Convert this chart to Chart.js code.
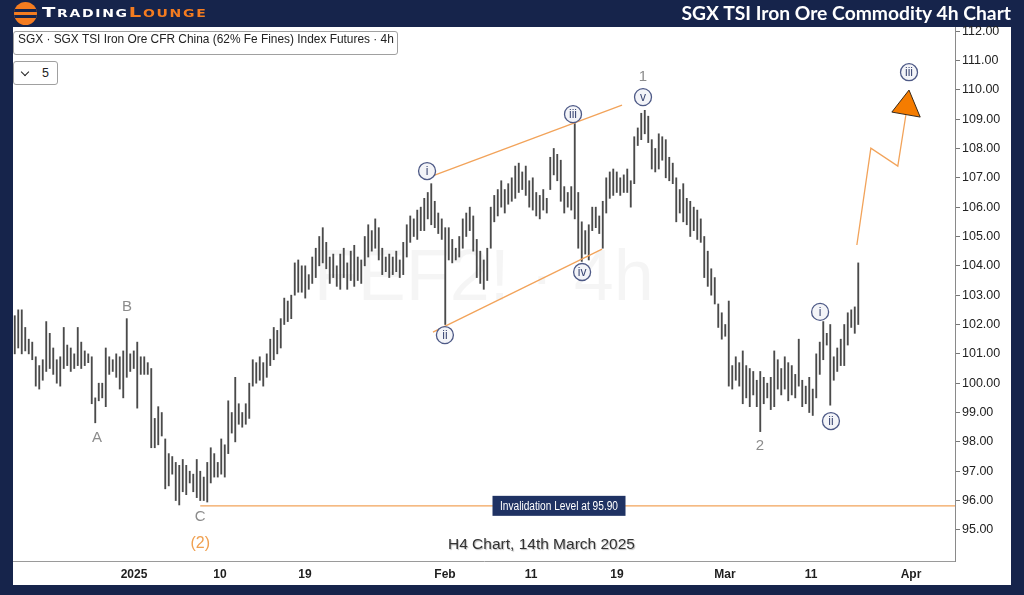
<!DOCTYPE html>
<html><head><meta charset="utf-8">
<script src="https://cdn.jsdelivr.net/npm/chart.js@4.4.1/dist/chart.umd.min.js"></script>
<style>
html,body{margin:0;padding:0;background:#16244b;}
#wrap{position:relative;width:1024px;height:595px;overflow:hidden;background:#16244b;}
canvas{position:absolute;left:0;top:0;}
.logo-icon{position:absolute;left:14px;top:2px;width:23px;height:23px;border-radius:50%;background:#f47c20;overflow:hidden;}
.logo-icon i{position:absolute;left:0;width:23px;height:3px;background:#16244b;}
.logo-text{position:absolute;left:42px;top:4px;font:900 14px "DejaVu Sans",sans-serif;font-variant:small-caps;letter-spacing:1.2px;color:#fff;white-space:nowrap;transform:scaleX(1.4);transform-origin:0 50%;}
.logo-text span{color:#f47c20;}
.title{position:absolute;right:13px;top:1px;font:700 19.3px "Lato",sans-serif;color:#fff;white-space:nowrap;}
.info{position:absolute;left:13px;top:31px;height:22px;line-height:22px;padding:0 3px 0 4px;background:#fff;border:1px solid #a0a0a0;border-radius:3px;font:11.9px "Liberation Sans",Arial,sans-serif;color:#222;white-space:nowrap;}
.cnt{position:absolute;left:13px;top:61px;width:43px;height:22px;background:#fff;border:1px solid #a0a0a0;border-radius:3px;font:12.5px "Liberation Sans",Arial,sans-serif;color:#222;}
.cnt b{position:absolute;left:8px;top:7px;width:5px;height:5px;border-right:1.6px solid #222;border-bottom:1.6px solid #222;transform:rotate(45deg);}
.cnt span{position:absolute;left:28px;top:4px;line-height:14px;}
.foot{position:absolute;left:448px;top:535px;font:15.5px "Liberation Sans",Arial,sans-serif;color:#333;text-shadow:1px 1px 1px #bbb;white-space:nowrap;}
</style></head><body>
<div id="wrap">
<canvas id="c" width="1024" height="595"></canvas>
<div class="logo-icon"><i style="top:7px"></i><i style="top:13px"></i></div>
<div class="logo-text">Trading<span>Lounge</span></div>
<div class="title">SGX TSI Iron Ore Commodity 4h Chart</div>
<div class="info">SGX · SGX TSI Iron Ore CFR China (62% Fe Fines) Index Futures · 4h</div>
<div class="cnt"><b></b><span>5</span></div>
<div class="foot">H4 Chart, 14th March 2025</div>
</div>
<script>
// ---- data ----
const highs = [102.3,102.5,102.5,101.9,101.5,101.4,100.9,100.6,100.8,102.1,101.7,101.2,100.8,100.9,101.9,101.3,101.2,101.0,101.9,101.4,
101.1,101.0,100.9,99.5,100.0,100.0,101.2,100.9,100.8,101.0,100.9,101.1,102.2,101.0,101.1,101.4,100.9,100.9,100.7,100.5,
98.8,99.2,99.0,98.1,97.6,97.5,97.3,97.2,97.4,97.2,97.0,96.9,97.4,97.0,96.8,97.3,97.8,97.6,97.3,98.1,
97.9,99.4,99.0,100.2,99.3,99.0,99.3,100.0,100.8,100.7,100.9,100.7,101.0,101.5,101.9,101.8,102.2,102.9,102.8,103.0,
104.1,104.2,104.0,104.0,103.7,104.3,104.6,105.0,105.3,104.8,104.3,104.4,104.0,104.4,104.6,104.1,104.5,104.7,104.3,104.2,
105.0,105.4,105.2,105.6,105.3,104.6,104.3,104.4,104.3,104.5,104.2,104.8,105.4,105.7,105.6,105.9,106.0,106.3,106.5,106.8,
106.2,105.8,105.6,105.3,105.3,104.9,104.6,105.0,105.6,105.8,106.0,105.7,104.9,104.5,104.2,104.6,106.0,106.4,106.6,106.9,
106.6,106.8,107.0,107.4,107.5,107.2,107.4,106.9,107.0,106.5,106.4,106.6,106.3,107.7,108.0,107.8,107.6,106.7,106.5,106.7,
108.85,106.5,105.5,105.2,105.4,106.0,106.0,105.7,106.2,107.0,107.2,107.3,107.2,107.0,107.1,107.3,106.9,108.4,108.7,109.2,
109.3,109.1,108.3,108.0,108.5,108.4,108.3,107.7,107.5,107.0,106.6,106.8,106.3,106.2,106.0,105.9,105.6,105.0,104.5,103.9,
103.6,102.7,102.4,102.0,102.8,100.6,100.9,100.7,101.1,100.6,100.5,100.4,100.1,100.4,100.2,100.0,100.2,101.1,100.8,100.5,
100.9,100.7,100.6,100.3,101.5,100.1,99.9,100.2,99.8,101.0,101.4,102.1,101.7,102.0,100.9,101.2,101.5,102.0,102.4,102.5,
102.6,104.1];
const lows = [101.0,101.2,101.0,101.1,101.0,100.8,99.9,99.8,100.1,100.4,100.5,100.3,100.0,99.9,100.5,100.6,100.4,100.5,100.6,100.5,
100.6,100.7,99.3,98.65,99.4,99.5,99.2,100.3,100.4,100.2,99.8,99.5,100.2,100.4,100.5,99.15,100.3,100.3,100.3,97.8,
97.8,97.9,98.2,96.4,96.5,96.9,96.0,95.85,96.3,96.2,96.6,96.3,96.1,96.0,96.0,95.95,96.6,96.8,96.8,96.9,
96.8,97.6,98.3,98.0,98.6,98.5,98.6,98.8,99.9,100.0,100.1,99.9,100.2,100.6,100.8,101.0,101.2,102.0,102.1,102.2,
103.0,103.1,103.1,102.9,103.2,103.4,103.6,104.0,104.1,103.9,103.4,103.6,103.3,103.2,103.6,103.2,103.5,103.3,103.5,103.4,
104.0,104.3,104.5,104.6,104.2,103.7,103.8,103.6,103.7,103.8,103.6,103.7,104.3,104.8,105.0,104.9,105.2,105.2,105.6,105.4,
105.3,105.1,104.9,102.0,104.2,104.1,104.2,104.3,104.6,105.0,105.2,104.5,103.6,103.4,103.2,103.5,104.6,105.5,105.7,106.0,
105.8,106.1,106.2,106.3,106.5,106.6,106.4,106.0,105.9,105.7,105.6,105.9,105.8,106.6,107.1,106.9,106.2,105.8,106.0,105.9,
105.6,104.6,104.15,104.4,104.2,105.2,105.3,105.1,104.6,105.8,106.3,106.4,106.5,106.4,106.5,106.5,106.0,106.8,108.1,108.3,
108.5,108.2,107.3,107.2,107.3,107.6,107.0,106.9,106.8,105.5,105.8,105.5,105.4,105.0,105.2,104.9,104.8,103.6,103.3,103.0,
102.7,101.9,101.5,101.6,99.9,99.8,100.1,99.9,99.3,99.5,99.2,99.6,99.2,98.35,99.3,99.5,99.1,99.2,99.8,99.6,
99.8,99.4,99.6,99.5,99.9,99.2,99.3,99.0,98.9,99.5,100.3,100.8,101.3,99.25,100.1,100.4,100.6,100.6,101.3,101.9,
101.7,102.0];
const xTickPos = [34.07,58.64,82.93,122.93,147.5,172.07,202.93,227.5,256.07];
const xTickLabels = ['2025','10','19','Feb','11','19','Mar','11','Apr'];
const yTickValues = [95,96,97,98,99,100,101,102,103,104,105,106,107,108,109,110,111,112];
const upperChannel = [[119.2,107.06],[173.5,109.48]];
const lowerChannel = [[119.5,101.74],[167.8,104.57]];
const projection = [[240.6,104.71],[244.6,108.01],[252.3,107.40],[254.6,109.14]];
const invalidation = [[53,95.82],[268.64,95.82]];
const arrowHead = [[255.5,109.99],[250.6,109.24],[258.7,109.07]];
const waveText  = ['A','B','C','(2)','1','v','i','ii','iii','iv','2','i','ii','iii'];
const waveX     = [23.5,32.1,53,53,179.5,179.5,117.8,122.9,159.5,162.1,212.9,230.1,233.2,255.5];
const waveY     = [98.13,102.6,95.44,94.52,110.43,109.75,107.23,101.64,109.17,103.79,97.86,102.43,98.71,110.6];
const waveKind  = ['g','g','g','o','g','c','c','c','c','c','g','c','c','c'];
const invalidLabel = {x:155.5, y:95.82, text:'Invalidation Level at 95.90'};
const watermark = {x:134, y:103.5, text:'FEF2! · 4h'};

const NAVY = '#16244b';
const pts = a => a.map(p => ({x:p[0], y:p[1]}));
const lineDs = (a) => ({type:'line', data:pts(a), borderColor:'#f2a35a', borderWidth:1.3, pointRadius:0, fill:false, tension:0, order:0});

const framePlugin = {
  id:'frame',
  beforeDraw(chart){
    const c = chart.ctx;
    c.save();
    c.fillStyle = NAVY; c.fillRect(0,0,chart.width,chart.height);
    c.fillStyle = '#fff'; c.fillRect(13,27,998,558);
    c.restore();
  },
  beforeDatasetsDraw(chart){
    const c = chart.ctx, xs = chart.scales.x, ys = chart.scales.y;
    c.save();
    c.font = '72px "Liberation Sans", Arial, sans-serif';
    c.fillStyle = 'rgba(0,0,0,0.04)';
    c.textAlign = 'center'; c.textBaseline = 'middle';
    c.fillText(watermark.text, xs.getPixelForValue(watermark.x), ys.getPixelForValue(watermark.y));
    c.restore();
  },
  afterDatasetsDraw(chart){
    const c = chart.ctx, xs = chart.scales.x, ys = chart.scales.y;
    c.save();
    // arrow head
    c.beginPath();
    arrowHead.forEach((p,i)=>{const X=xs.getPixelForValue(p[0]),Y=ys.getPixelForValue(p[1]); i?c.lineTo(X,Y):c.moveTo(X,Y);});
    c.closePath();
    c.fillStyle='#f57c00'; c.fill(); c.strokeStyle='#3a2a1a'; c.lineWidth=1; c.stroke();
    // wave labels
    c.textAlign='center'; c.textBaseline='middle';
    for(let i=0;i<waveText.length;i++){
      const X = xs.getPixelForValue(waveX[i]), Y = ys.getPixelForValue(waveY[i]);
      if(waveKind[i]==='c'){
        c.beginPath(); c.arc(X,Y,8.5,0,Math.PI*2);
        c.fillStyle='#f3f4f8'; c.fill();
        c.lineWidth=1.3; c.strokeStyle='#4d5986'; c.stroke();
        c.fillStyle='#3b4774'; c.font='12px "Liberation Sans", Arial, sans-serif';
        c.fillText(waveText[i],X,Y+0.5);
      } else if(waveKind[i]==='o'){
        c.fillStyle='#f0a050'; c.font='16px "Liberation Sans", Arial, sans-serif';
        c.fillText(waveText[i],X,Y);
      } else {
        c.fillStyle='#8c8c8c'; c.font='15px "Liberation Sans", Arial, sans-serif';
        c.fillText(waveText[i],X,Y);
      }
    }
    // invalidation label
    const LX = xs.getPixelForValue(invalidLabel.x), LY = ys.getPixelForValue(invalidLabel.y);
    c.fillStyle='#1f3263'; c.fillRect(LX-66.5, LY-10, 133, 20);
    c.font='12px "Liberation Sans", Arial, sans-serif';
    const tw = c.measureText(invalidLabel.text).width;
    const sx = 118/tw;
    c.translate(LX, LY); c.scale(sx,1);
    c.fillStyle='#fff'; c.fillText(invalidLabel.text, 0, 0.5);
    c.restore();
  }
};

const barData = highs.map((h,i)=>({x:i, y:[lows[i], h]}));

new Chart(document.getElementById('c'), {
  type:'bar',
  data:{datasets:[
    {type:'bar', data:barData, backgroundColor:'#4a4a4a', borderWidth:0, barThickness:1.2, grouped:false, order:1},
    lineDs(upperChannel), lineDs(lowerChannel), lineDs(projection), lineDs(invalidation)
  ]},
  options:{
    responsive:false, animation:false, devicePixelRatio:1,
    layout:{padding:{left:13,top:27,right:13,bottom:10}},
    plugins:{legend:{display:false}, tooltip:{enabled:false}},
    scales:{
      x:{type:'linear', min:-0.5, max:268.64, offset:false,
         grid:{display:false, drawTicks:false},
         border:{display:true, color:'#9a9a9a', width:1},
         afterBuildTicks:s=>{s.ticks = xTickPos.map(v=>({value:v}));},
         afterFit:s=>{s.height=24;},
         ticks:{autoSkip:false, maxRotation:0, padding:6, color:'#1e1e1e',
                font:{family:'"Liberation Sans", Arial, sans-serif', size:12, weight:'bold'},
                callback:(v,i)=>xTickLabels[i]}},
      y:{type:'linear', position:'right', min:93.94, max:112.14,
         grid:{drawOnChartArea:false, drawTicks:true, tickLength:5, color:'#777'},
         border:{display:true, color:'#8a8a8a', width:1},
         afterBuildTicks:s=>{s.ticks = yTickValues.map(v=>({value:v}));},
         afterFit:s=>{s.width=56;},
         ticks:{padding:2, color:'#222',
                font:{family:'"Liberation Sans", Arial, sans-serif', size:12.5},
                callback:v=>Number(v).toFixed(2)}}
    }
  },
  plugins:[framePlugin]
});
</script>
</body></html>
